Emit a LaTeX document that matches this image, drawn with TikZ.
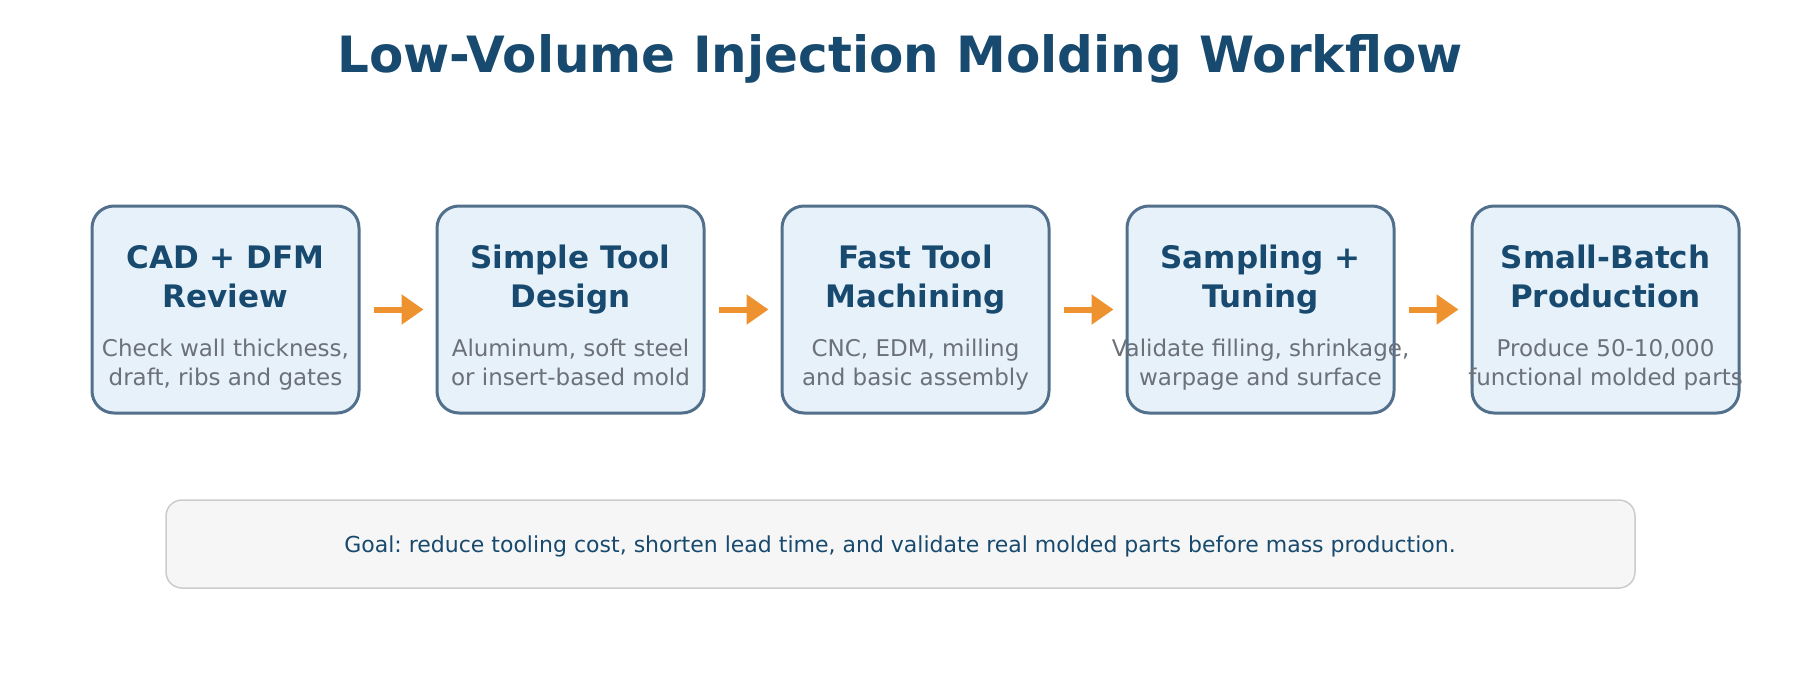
\documentclass[tikz,border=0pt]{standalone}
\usepackage{fontspec}
\setmainfont{DejaVu Sans}
\usetikzlibrary{arrows.meta}
\frenchspacing
\definecolor{titleblue}{HTML}{174A6E}
\definecolor{boxfill}{HTML}{E7F1FA}
\definecolor{boxline}{HTML}{52708C}
\definecolor{subgray}{HTML}{6B7079}
\definecolor{arrorange}{HTML}{EE922F}
\definecolor{goalfill}{HTML}{F6F6F6}
\definecolor{goalline}{HTML}{CCCCCC}
\tikzset{
  stepbox/.style={draw=boxline, line width=3pt, fill=boxfill, rounded corners=22pt,
    minimum width=267pt, minimum height=207pt, inner sep=0pt},
  steptitle/.style={anchor=base, text=titleblue, font=\fontsize{31}{36}\selectfont\bfseries, inner sep=0pt},
  stepsub/.style={anchor=base, text=subgray, font=\fontsize{23}{28}\selectfont, inner sep=0pt},
  flow/.style={draw=arrorange, line width=6pt, -{Triangle[length=22pt,width=29pt]}},
}
\newcommand{\mkstep}[6]{%
  \node[stepbox] (b#1) at (#2,309.5) {};
  \node[steptitle] (t#1a) at (#2,268) {#3};
  \node[steptitle] (t#1b) at (#2,307) {#4};
  \node[stepsub] (s#1a) at (#2,356) {#5};
  \node[stepsub] (s#1b) at (#2,385) {#6};
}
\begin{document}
\begin{tikzpicture}[x=1pt,y=-1pt]
\useasboundingbox (0,0) rectangle (1800,680);
\node[anchor=base, text=titleblue, font=\fontsize{50}{58}\selectfont\bfseries, inner sep=0pt] (title) at (900,72) {Low-Volume Injection Molding Workflow};

\mkstep{1}{225.5}{CAD + DFM}{Review}{Check wall thickness,}{draft, ribs and gates}
\mkstep{2}{570.5}{Simple Tool}{Design}{Aluminum, soft steel}{or insert-based mold}
\mkstep{3}{915.5}{Fast Tool}{Machining}{CNC, EDM, milling}{and basic assembly}
\mkstep{4}{1260.5}{Sampling +}{Tuning}{Validate filling, shrinkage,}{warpage and surface}
\mkstep{5}{1605.5}{Small-Batch}{Production}{Produce 50-10,000}{functional molded parts}

\draw[flow] ([xshift=13pt]b1.east) -- ([xshift=-12pt]b2.west);
\draw[flow] ([xshift=13pt]b2.east) -- ([xshift=-12pt]b3.west);
\draw[flow] ([xshift=13pt]b3.east) -- ([xshift=-12pt]b4.west);
\draw[flow] ([xshift=13pt]b4.east) -- ([xshift=-12pt]b5.west);

\node[draw=goalline, line width=1.5pt, fill=goalfill, rounded corners=16pt,
  minimum width=1469pt, minimum height=88pt] (goal) at (900.5,544) {};
\node[anchor=base, text=titleblue, font=\fontsize{22}{26}\selectfont, inner sep=0pt] (goaltext) at (900,552)
  {Goal: reduce tooling cost, shorten lead time, and validate real molded parts before mass production.};
\end{tikzpicture}
\end{document}
